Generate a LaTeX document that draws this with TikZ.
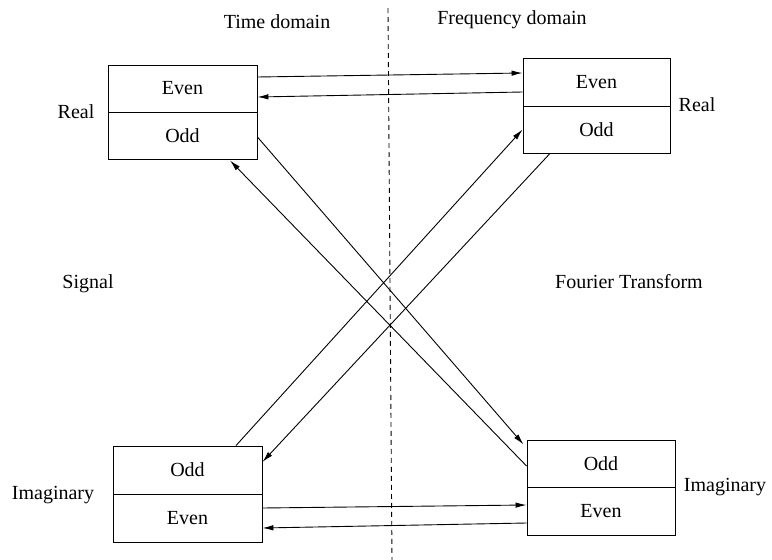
\documentclass[tikz,border=0pt]{standalone}
\usepackage{fontspec}
\setmainfont{Liberation Serif}
\usetikzlibrary{arrows.meta}
\begin{document}
\begin{tikzpicture}[x=1pt,y=-1pt,
  half/.style={draw,line width=0.9pt,inner sep=0pt,minimum width=#1,font=\fontsize{20}{24}\selectfont},
  lbl/.style={inner sep=0pt,font=\fontsize{20}{24}\selectfont},
  arr/.style={line width=0.9pt,-{Latex[length=11pt,width=5.5pt]}}]
\useasboundingbox (0,0) rectangle (772,560);
% boxes
\node[half=149pt,minimum height=47pt] (tlE) at (182.5,88.5) {Even};
\node[half=149pt,minimum height=47pt] (tlO) at (182.5,135.5) {Odd};
\node[half=147pt,minimum height=48pt] (trE) at (596.5,82) {Even};
\node[half=147pt,minimum height=47pt] (trO) at (596.5,129.5) {Odd};
\node[half=149pt,minimum height=48pt] (blO) at (187.5,470) {Odd};
\node[half=149pt,minimum height=48pt] (blE) at (187.5,518) {Even};
\node[half=148pt,minimum height=47pt] (brO) at (601,463.5) {Odd};
\node[half=148pt,minimum height=48pt] (brE) at (601,511) {Even};
% labels
\node[lbl] (time) at (277,22) {Time domain};
\node[lbl] (freq) at (512,20) {Frequency domain};
\node[lbl] (realL) at (76,112) {Real};
\node[lbl] (realR) at (697,105) {Real};
\node[lbl] (sig) at (88,284) {Signal};
\node[lbl] (ft) at (629,282) {Fourier Transform};
\node[lbl] (imL) at (53,495) {Imaginary};
\node[lbl] (imR) at (725,487) {Imaginary};
% dashed divider
\coordinate (dtop) at (388,8);
\coordinate (dbot) at (392,560);
\draw[line width=0.9pt,dash pattern=on 5pt off 4pt] (dtop) -- (dbot);
% horizontal arrows
\draw[arr] ([yshift=11.5pt]tlE.east) -- ([yshift=9pt]trE.west);
\draw[arr] ([yshift=-10pt]trE.west) -- ([yshift=-8.5pt]tlE.east);
\draw[arr] ([yshift=10pt]blE.east) -- ([yshift=6pt]brE.west);
\draw[arr] ([yshift=-12pt]brE.west) -- ([yshift=-10pt]blE.east);
% diagonal arrows
\draw[arr] ([yshift=-1.5pt]tlO.east) -- ([xshift=-3pt,yshift=-5pt]brO.north west);
\draw[arr] ([yshift=-2.5pt]brO.west) -- ([xshift=47.5pt,yshift=-1pt]tlO.south);
\draw[arr] ([xshift=48.5pt]blO.north) -- (trO.west);
\draw[arr] ([xshift=-46.5pt]trO.south) -- ([yshift=8pt]blO.east);
\end{tikzpicture}
\end{document}
